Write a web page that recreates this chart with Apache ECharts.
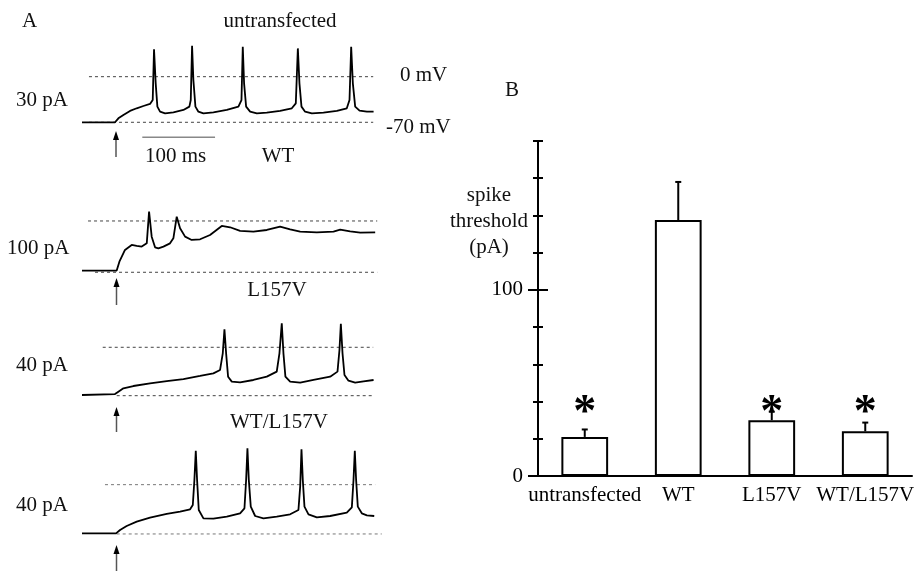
<!DOCTYPE html>
<html>
<head>
<meta charset="utf-8">
<script src="https://cdn.jsdelivr.net/npm/echarts@6/dist/echarts.min.js"></script>
<style>
  html, body { margin: 0; padding: 0; background: #fff; }
  #chart { width: 917px; height: 571px; }
</style>
</head>
<body>
<div id="chart"></div>
<script>
// Panel A: membrane voltage traces, [time ms, mV]
const untransTrace = [[0,-70],[45.4,-70],[50,-63.9],[56.9,-58.8],[66,-52.6],[75.2,-48.5],[84.4,-45],[93.5,-41.9],[97.2,-35.8],[99,41.9],[101.3,-10.2],[103.6,-46],[107.3,-53.7],[114.2,-56.2],[125.6,-54.7],[139.4,-51.1],[147.6,-46],[149.5,-35.8],[151.3,47.5],[153.1,-5.1],[155.9,-46],[160,-53.7],[166.9,-56.2],[180.6,-54.7],[199,-51.1],[215,-46],[219.2,-35.8],[221,46],[222.8,-10.2],[225.6,-46],[231.1,-53.7],[240.3,-56.2],[254,-55.2],[272.3,-52.6],[288.4,-48.5],[293.9,-40.9],[296.7,43.4],[298.9,-10.2],[301.7,-46],[306.7,-53.7],[315.9,-56.2],[331.9,-55.2],[350.3,-52.6],[364,-48.5],[367.7,-35.8],[370,46],[372.3,-10.2],[375.5,-46],[381.5,-52.1],[391.6,-53.7],[400.8,-53.7]];
const wtTrace = [[0,-67.7],[47.7,-67.7],[51.4,-55.5],[59.1,-39.5],[68.3,-32.7],[75.2,-34.1],[82.1,-35],[89,-30.5],[92.2,12.7],[95.8,-21.4],[100.4,-35.9],[105,-37.3],[111.9,-35],[121,-30.5],[125.6,-23.6],[130.2,5.9],[134.8,-10],[141.7,-21.4],[150.8,-25.9],[162.3,-25],[176,-19.1],[192.1,-6.8],[203.6,-8.6],[217.3,-13.6],[235.6,-14.5],[254,-12.3],[272.3,-7.7],[286.1,-11.4],[299.9,-14.5],[322.8,-15.5],[345.7,-14.5],[354.9,-11.8],[368.6,-14.1],[382.4,-15.9],[403,-15.5]];
const l157vTrace = [[0,-69],[45.4,-67.6],[50,-64.2],[56.9,-59.4],[70.6,-56],[93.5,-52.1],[116.5,-48.8],[139.4,-45.9],[162.3,-41.5],[180.6,-37.7],[189.8,-32.8],[193.5,-8.7],[195.8,26.1],[198.1,-8.7],[200.8,-42.5],[205.9,-49.7],[217.3,-50.7],[235.6,-47.3],[254,-42.5],[267.7,-35.2],[271.4,-8.7],[274.6,34.8],[276.9,-8.7],[279.6,-42.5],[286.1,-49.7],[299.9,-51.2],[318.2,-47.3],[341.1,-42.5],[351.2,-35.2],[353.9,-3.9],[355.8,33.8],[358.1,-8.7],[360.8,-40.1],[366.3,-48.3],[375.5,-51.2],[387,-49.3],[400.8,-47.3]];
const wtL157vTrace = [[0,-69.1],[46.8,-69.1],[52.3,-64.3],[61.4,-58.7],[75.2,-52.5],[93.5,-46.8],[116.5,-41.6],[134.8,-38.3],[148.6,-35],[152.3,-28.9],[154.5,6.6],[156.4,48.2],[158.2,6.6],[160.5,-36],[166.9,-47.8],[180.6,-48.2],[199,-45.4],[217.3,-40.7],[223.3,-33.6],[225.6,6.6],[227.4,51.6],[229.3,6.6],[232,-31.2],[238,-44.5],[249.4,-47.8],[267.7,-45.4],[286.1,-42.1],[297.5,-36],[299.9,-2.8],[301.7,50.1],[303.5,6.6],[305.8,-31.2],[311.3,-42.1],[322.8,-46.4],[341.1,-44.5],[364,-39.7],[370.9,-32.2],[373.2,6.6],[375,48.2],[376.8,6.6],[379.1,-31.2],[384.6,-40.7],[391.6,-43.5],[401.7,-44.5]];
const traceTitles = ['untransfected', 'WT', 'L157V', 'WT/L157V'];
const traceCurrents = ['30 pA', '100 pA', '40 pA', '40 pA'];
// dotted reference lines (0 mV and -70 mV), time span in ms
const zeroLineSpan = [[9.6, 400.3], [8.3, 405.8], [28.5, 400.3], [31.6, 403]];
const restLineSpan = [[9.6, 400.3], [17.9, 405.8], [47.7, 400.3], [47.7, 412]];
const refLevels = [0, -70];

// Panel B: spike threshold (pA)
const categories = ['untransfected', 'WT', 'L157V', 'WT/L157V'];
const thresholds = [21, 137.5, 30, 24];
const thresholdErr = [4, 20.5, 4.6, 4.7];
const significant = [1, 0, 1, 1];
const majorTicks = [0, 100];
const minorTicks = [20, 40, 60, 80, 120, 140, 160, 180];

const FONT = 'Liberation Serif';
const MS = 0.7275; // px per ms in panel A
const traceLayout = [
  { top: 37.6, height: 91.2 },
  { top: 177, height: 102.6 },
  { top: 305.8, height: 96.8 },
  { top: 442.4, height: 98.6 }
];
const traces = [untransTrace, wtTrace, l157vTrace, wtL157vTrace];

const chart = echarts.init(document.getElementById('chart'));

const grids = traceLayout.map(g => ({ left: 82, top: g.top, width: 415 * MS, height: g.height }));
grids.push({ left: 538, top: 141, width: 376, height: 335 });

const xAxes = traceLayout.map((g, i) => ({ type: 'value', gridIndex: i, min: 0, max: 415, show: false }));
xAxes.push({
  type: 'category', gridIndex: 4, data: categories,
  axisLine: { lineStyle: { color: '#000', width: 2 } },
  axisTick: { show: false },
  axisLabel: { interval: 0, color: '#000', fontFamily: FONT, fontSize: 21, margin: 9 }
});

const yAxes = traceLayout.map((g, i) => ({ type: 'value', gridIndex: i, min: -80, max: 60, show: false }));
const barY = { type: 'value', gridIndex: 4, position: 'left', offset: 0, min: 0, max: 180, interval: 20, splitLine: { show: false } };
yAxes.push(Object.assign({}, barY, {
  axisLine: { show: true, lineStyle: { color: '#000', width: 2 } },
  axisTick: { show: true, customValues: majorTicks, length: 10, lineStyle: { color: '#000', width: 2 } },
  axisLabel: { customValues: majorTicks, color: '#000', fontFamily: FONT, fontSize: 21, margin: 15 }
}));
yAxes.push(Object.assign({}, barY, {
  axisLine: { show: false }, axisLabel: { show: false },
  axisTick: { show: true, inside: true, customValues: [100], length: 10, lineStyle: { color: '#000', width: 2 } }
}));
yAxes.push(Object.assign({}, barY, {
  axisLine: { show: false }, axisLabel: { show: false },
  axisTick: { show: true, customValues: minorTicks, length: 5, lineStyle: { color: '#000', width: 2 } }
}));
yAxes.push(Object.assign({}, barY, {
  axisLine: { show: false }, axisLabel: { show: false },
  axisTick: { show: true, inside: true, customValues: minorTicks, length: 5, lineStyle: { color: '#000', width: 2 } }
}));

const series = [];
traces.forEach((tr, i) => {
  [zeroLineSpan[i], restLineSpan[i]].forEach((span, k) => {
    series.push({
      type: 'line', xAxisIndex: i, yAxisIndex: i, showSymbol: false, silent: true,
      data: [[span[0], refLevels[k]], [span[1], refLevels[k]]],
      lineStyle: { color: i === 3 ? '#777' : '#444', width: 1, type: [3, 3] }
    });
  });
  series.push({
    type: 'line', xAxisIndex: i, yAxisIndex: i, showSymbol: false,
    data: tr, lineStyle: { color: '#000', width: 1.8 }
  });
});

series.push({
  type: 'bar', xAxisIndex: 4, yAxisIndex: 4, data: thresholds, barWidth: '50%',
  itemStyle: { color: '#fff', borderColor: '#000', borderWidth: 2 }
});
series.push({
  type: 'custom', xAxisIndex: 4, yAxisIndex: 4, z: 5,
  data: categories.map((c, i) => [i, thresholds[i], thresholdErr[i], significant[i]]),
  renderItem: (params, api) => {
    const i = api.value(0), m = api.value(1), e = api.value(2);
    const p0 = api.coord([i, m]);
    const p1 = api.coord([i, m + e]);
    const kids = [
      { type: 'line', shape: { x1: p0[0], y1: p0[1], x2: p1[0], y2: p1[1] }, style: { stroke: '#000', lineWidth: 2 } },
      { type: 'line', shape: { x1: p1[0] - 3, y1: p1[1], x2: p1[0] + 3, y2: p1[1] }, style: { stroke: '#000', lineWidth: 2 } }
    ];
    if (api.value(3)) {
      const ps = api.coord([i, 38]);
      kids.push({ type: 'text', x: ps[0], y: ps[1] + 9, style: { text: '*', fill: '#000', font: 'bold 46px ' + FONT, align: 'center', verticalAlign: 'middle' } });
    }
    return { type: 'group', children: kids };
  }
});

function txt(text, x, y, align, size) {
  return { type: 'text', x: x, y: y, style: { text: text, fill: '#111', font: (size || 21) + 'px ' + FONT, align: align || 'left', verticalAlign: 'middle' } };
}
function arrow(x, tipY, tailY) {
  return {
    type: 'group', children: [
      { type: 'line', shape: { x1: x, y1: tipY + 7, x2: x, y2: tailY }, style: { stroke: '#555', lineWidth: 1.5 } },
      { type: 'polygon', shape: { points: [[x, tipY], [x - 3, tipY + 9], [x + 3, tipY + 9]] }, style: { fill: '#000' } }
    ]
  };
}

const graphic = [
  txt('A', 22, 21),
  txt(traceTitles[0], 280, 21, 'center'),
  txt('0 mV', 400, 75),
  txt('-70 mV', 386, 127),
  txt(traceCurrents[0], 16, 100),
  txt('100 ms', 145, 156),
  txt(traceTitles[1], 278, 156, 'center'),
  txt(traceCurrents[1], 7, 248),
  txt(traceTitles[2], 277, 290, 'center'),
  txt(traceCurrents[2], 16, 365),
  txt(traceTitles[3], 279, 422, 'center'),
  txt(traceCurrents[3], 16, 505),
  txt('B', 505, 90),
  txt('spike', 489, 195, 'center'),
  txt('threshold', 489, 221, 'center'),
  txt('(pA)', 489, 247, 'center'),
  { type: 'line', shape: { x1: 142.3, y1: 137.3, x2: 142.3 + 100 * MS, y2: 137.3 }, style: { stroke: '#888', lineWidth: 1.5 } },
  arrow(116, 131, 157),
  arrow(116.5, 278, 305),
  arrow(116.5, 407, 432),
  arrow(116.5, 545, 571)
];

chart.setOption({
  animation: false,
  backgroundColor: '#fff',
  grid: grids,
  xAxis: xAxes,
  yAxis: yAxes,
  series: series,
  graphic: graphic
});
</script>
</body>
</html>
